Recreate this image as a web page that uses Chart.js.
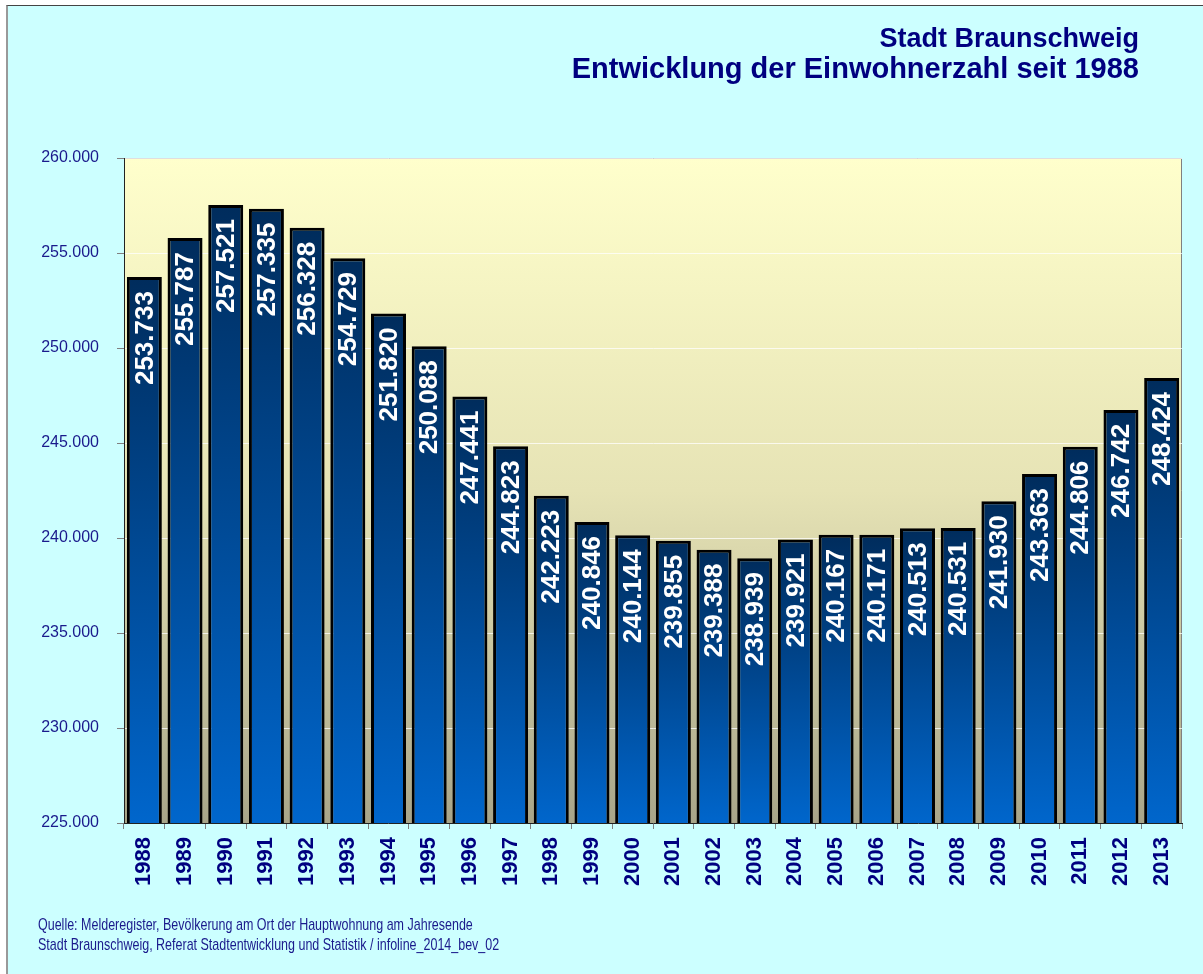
<!DOCTYPE html>
<html lang="de">
<head>
<meta charset="utf-8">
<title>Stadt Braunschweig - Entwicklung der Einwohnerzahl seit 1988</title>
<script src="https://cdn.jsdelivr.net/npm/chart.js@4.4.1/dist/chart.umd.min.js"></script>
<style>
    html, body { margin: 0; padding: 0; background: #ffffff; }
    #frame {
        position: absolute; left: 6px; top: 5px; width: 1197px; height: 969px;
        background: #ccffff;
        border-top: 1px solid #444;
        border-left: 2px solid #999;
        box-sizing: border-box;
    }
    #chartWrap { position: absolute; left: 8px; top: 6px; width: 1195px; height: 968px; }
    .title {
        position: absolute; right: 64px; top: 23px;
        font: bold 27px "Liberation Sans", Arial, sans-serif;
        color: #000080; text-align: right; line-height: 30px;
    }
    .title .sub { font-size: 29px; }
    .source {
        position: absolute; left: 38px; top: 915px;
        font: 17px "Liberation Sans", Arial, sans-serif;
        color: #1a1a8c; line-height: 20px; white-space: nowrap;
        transform: scaleX(0.735); transform-origin: 0 0;
    }
</style>
</head>
<body>
<div id="frame"></div>
<div id="chartWrap"><canvas id="popChart"></canvas></div>
<div class="title">Stadt Braunschweig<br><span class="sub">Entwicklung der Einwohnerzahl seit 1988</span></div>
<div class="source">Quelle: Melderegister, Bevölkerung am Ort der Hauptwohnung am Jahresende<br>Stadt Braunschweig, Referat Stadtentwicklung und Statistik / infoline_2014_bev_02</div>

<script>
// Einwohner am Jahresende (Hauptwohnung)
const years = ['1988', '1989', '1990', '1991', '1992', '1993', '1994', '1995', '1996',
    '1997', '1998', '1999', '2000', '2001', '2002', '2003', '2004', '2005', '2006',
    '2007', '2008', '2009', '2010', '2011', '2012', '2013'];

const population = [253733, 255787, 257521, 257335, 256328, 254729, 251820, 250088, 247441,
    244823, 242223, 240846, 240144, 239855, 239388, 238939, 239921, 240167, 240171,
    240513, 240531, 241930, 243363, 244806, 246742, 248424];

const yMin = 225000;
const yMax = 260000;
const yStep = 5000;

// 253733 -> "253.733"
function formatDe(value) {
    return String(Math.round(value)).replace(/\B(?=(\d{3})+(?!\d))/g, '.');
}

// yellow-to-olive plot background plus grey frame on top/right
const plotBackground = {
    id: 'plotBackground',
    beforeDraw(chart) {
        const { ctx, chartArea: a } = chart;
        const g = ctx.createLinearGradient(0, a.top, 0, a.bottom);
        g.addColorStop(0, '#ffffcc');
        g.addColorStop(0.5, '#e6e3b5');
        g.addColorStop(1, '#a8a589');
        ctx.save();
        ctx.fillStyle = g;
        ctx.fillRect(a.left, a.top, a.right - a.left, a.bottom - a.top);
        ctx.strokeStyle = '#808080';
        ctx.lineWidth = 1;
        ctx.beginPath();
        ctx.moveTo(a.left, a.top + 0.5);
        ctx.lineTo(a.right - 0.5, a.top + 0.5);
        ctx.lineTo(a.right - 0.5, a.bottom);
        ctx.stroke();
        ctx.restore();
    }
};

// vertical white value labels inside the top of each bar
const barLabels = {
    id: 'barLabels',
    afterDatasetsDraw(chart) {
        const { ctx } = chart;
        const meta = chart.getDatasetMeta(0);
        ctx.save();
        ctx.fillStyle = '#ffffff';
        ctx.font = 'bold 26px "Liberation Sans", Arial, sans-serif';
        ctx.textAlign = 'right';
        ctx.textBaseline = 'middle';
        meta.data.forEach((bar, i) => {
            ctx.save();
            ctx.translate(bar.x + 1, bar.y + 14);
            ctx.rotate(-Math.PI / 2);
            ctx.fillText(formatDe(population[i]), 0, 0);
            ctx.restore();
        });
        ctx.restore();
    }
};

new Chart(document.getElementById('popChart'), {
    type: 'bar',
    data: {
        labels: years,
        datasets: [{
            data: population,
            backgroundColor: function(context) {
                const chart = context.chart;
                const yScale = chart.scales.y;
                if (!yScale || context.type !== 'data') return '#004488';
                const top = yScale.getPixelForValue(context.raw);
                const bottom = yScale.getPixelForValue(yMin);
                if (!isFinite(top) || !isFinite(bottom) || top === bottom) return '#004488';
                const g = chart.ctx.createLinearGradient(0, top, 0, bottom);
                g.addColorStop(0, '#002c5c');
                g.addColorStop(1, '#0066cc');
                return g;
            },
            borderColor: '#000000',
            borderWidth: 3,
            borderSkipped: false,
            barPercentage: 0.86,
            categoryPercentage: 1.0
        }]
    },
    options: {
        responsive: true,
        maintainAspectRatio: false,
        animation: false,
        layout: {
            padding: { top: 152, right: 21, bottom: 71, left: 0 }
        },
        plugins: {
            legend: { display: false },
            title: { display: false },
            tooltip: { enabled: false }
        },
        scales: {
            y: {
                min: yMin,
                max: yMax,
                afterFit: function(scale) { scale.width = 116; },
                ticks: {
                    stepSize: yStep,
                    padding: 18,
                    color: '#1a1a8c',
                    font: { family: '"Liberation Sans", Arial, sans-serif', size: 16 },
                    callback: function(value) { return formatDe(value); }
                },
                grid: {
                    color: 'rgba(255, 255, 255, 0.75)',
                    tickColor: '#808080',
                    tickLength: 7
                },
                border: { color: '#222222', width: 1 }
            },
            x: {
                afterFit: function(scale) { scale.height = 80; },
                ticks: {
                    minRotation: 90,
                    maxRotation: 90,
                    padding: 8,
                    autoSkip: false,
                    color: '#000080',
                    font: { family: '"Liberation Sans", Arial, sans-serif', size: 22, weight: 'bold' }
                },
                grid: {
                    offset: true,
                    drawOnChartArea: false,
                    tickColor: '#808080',
                    tickLength: 6
                },
                border: { color: '#222222', width: 1 }
            }
        }
    },
    plugins: [plotBackground, barLabels]
});
</script>
</body>
</html>
